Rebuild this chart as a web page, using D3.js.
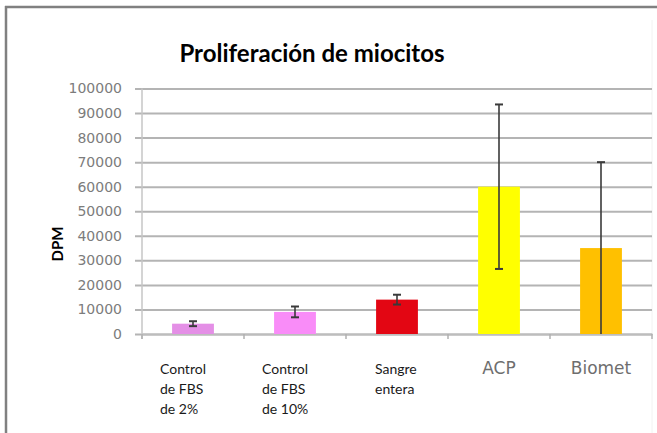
<!DOCTYPE html>
<html>
<head>
<meta charset="utf-8">
<script src="https://cdn.jsdelivr.net/npm/d3@7"></script>
<style>
  body { margin: 0; background: #fff; }
  svg { display: block; }
  .tick-label { font-family: 'DejaVu Sans', sans-serif; }
</style>
</head>
<body>
<svg id="chart" width="657" height="433"></svg>
<script>
// data
const categories = ['Control de FBS de 2%', 'Control de FBS de 10%', 'Sangre entera', 'ACP', 'Biomet'];
const labelLines = [['Control', 'de FBS', 'de 2%'], ['Control', 'de FBS', 'de 10%'], ['Sangre', 'entera'], ['ACP'], ['Biomet']];
const values = [4200, 9000, 14000, 60000, 35000];
const errors = [1000, 2200, 2000, 33500, 35000];
const barColors = ['#e48fe6', '#f98cf8', '#e30613', '#ffff00', '#ffc000'];
const yTicks = [0, 10000, 20000, 30000, 40000, 50000, 60000, 70000, 80000, 90000, 100000];

const margin = { top: 88.5, right: 5, bottom: 99, left: 142 };
const outerWidth = 657, outerHeight = 433;
const width = outerWidth - margin.left - margin.right;
const height = outerHeight - margin.top - margin.bottom;

const svg = d3.select('#chart');

// frame of the chart area (top and left edges only are visible)
svg.append('line')
  .attr('x1', 5).attr('x2', 657).attr('y1', 7).attr('y2', 7)
  .attr('stroke', '#808080').attr('stroke-width', 2.5);
svg.append('line')
  .attr('x1', 6).attr('x2', 6).attr('y1', 6).attr('y2', 433)
  .attr('stroke', '#808080').attr('stroke-width', 2.5);
svg.append('line')
  .attr('x1', 652).attr('x2', 652).attr('y1', 20).attr('y2', 433)
  .attr('stroke', '#f2f2f2').attr('stroke-width', 1);

svg.append('text')
  .attr('x', 312)
  .attr('y', 62)
  .attr('text-anchor', 'middle')
  .attr('font-family', 'Lato, sans-serif')
  .attr('font-weight', 'bold')
  .attr('font-size', 24)
  .attr('fill', '#000')
  .text('Proliferación de miocitos');

const g = svg.append('g')
  .attr('transform', 'translate(' + margin.left + ',' + margin.top + ')');

const xScale = d3.scaleBand()
  .domain(categories)
  .range([0, width])
  .padding(0);

const yScale = d3.scaleLinear()
  .domain([0, 100000])
  .range([height, 0]);

// y axis with gridlines
const yAxis = d3.axisLeft(yScale)
  .tickValues(yTicks)
  .tickSize(-width)
  .tickPadding(20)
  .tickFormat(d3.format('d'));

const gY = g.append('g').classed('y axis', true).call(yAxis);
gY.attr('font-family', null).attr('font-size', null);
gY.select('.domain').remove();
gY.selectAll('.tick line')
  .attr('x1', -7)
  .attr('stroke', '#b4b4b4')
  .attr('stroke-width', 2);
gY.selectAll('.tick text')
  .classed('tick-label', true)
  .attr('font-size', 14)
  .attr('fill', '#7c7c7c');

// vertical axis line
g.append('line')
  .attr('x1', 0).attr('x2', 0)
  .attr('y1', 0).attr('y2', height + 5)
  .attr('stroke', '#c6c6c6').attr('stroke-width', 1.5);

// category axis
const xAxis = d3.axisBottom(xScale).tickSize(0).tickFormat('');
const gX = g.append('g')
  .classed('x axis', true)
  .attr('transform', 'translate(0,' + height + ')')
  .call(xAxis);
gX.select('.domain').attr('stroke', '#bdbdbd').attr('stroke-width', 2);

const boundaries = categories.map(c => xScale(c)).concat([width]);
gX.selectAll('.cat-tick')
  .data(boundaries)
  .enter()
  .append('line')
  .classed('cat-tick', true)
  .attr('x1', d => d).attr('x2', d => d)
  .attr('y1', 0).attr('y2', 5)
  .attr('stroke', '#b0b0b0').attr('stroke-width', 1.5);

const barWidth = xScale.bandwidth() * 0.41;
const rows = categories.map((c, i) => ({
  cat: c, value: values[i], err: errors[i], color: barColors[i], lines: labelLines[i]
}));

g.selectAll('.bar')
  .data(rows)
  .enter()
  .append('rect')
  .classed('bar', true)
  .attr('x', d => xScale(d.cat) + xScale.bandwidth() / 2 - barWidth / 2)
  .attr('y', d => yScale(d.value))
  .attr('width', barWidth)
  .attr('height', d => height - yScale(d.value))
  .attr('fill', d => d.color);

// error bars
const errG = g.selectAll('.err')
  .data(rows)
  .enter()
  .append('g')
  .classed('err', true)
  .attr('transform', d => 'translate(' + (xScale(d.cat) + xScale.bandwidth() / 2) + ',0)');

errG.append('line')
  .attr('y1', d => yScale(d.value + d.err))
  .attr('y2', d => yScale(Math.max(0, d.value - d.err)))
  .attr('stroke', '#3a3a3a').attr('stroke-width', 1.6);
errG.append('line')
  .attr('x1', -4).attr('x2', 4)
  .attr('y1', d => yScale(d.value + d.err))
  .attr('y2', d => yScale(d.value + d.err))
  .attr('stroke', '#3a3a3a').attr('stroke-width', 2);
errG.filter(d => d.value - d.err > 0)
  .append('line')
  .attr('x1', -4).attr('x2', 4)
  .attr('y1', d => yScale(d.value - d.err))
  .attr('y2', d => yScale(d.value - d.err))
  .attr('stroke', '#3a3a3a').attr('stroke-width', 2);

// category labels: the first three are wrapped text, the last two a grey font
const labels = g.selectAll('.cat-label')
  .data(rows)
  .enter()
  .append('text')
  .classed('cat-label', true)
  .attr('y', height + 40);

labels.filter((d, i) => i < 3)
  .attr('text-anchor', 'start')
  .attr('x', (d, i) => xScale(d.cat) + [18, 18, 29][i])
  .attr('font-family', 'Lato, sans-serif')
  .attr('font-size', 14)
  .attr('fill', '#1a1a1a')
  .each(function (d) {
    const t = d3.select(this);
    const x0 = t.attr('x');
    d.lines.forEach((line, j) => {
      t.append('tspan').attr('x', x0).attr('dy', j === 0 ? 0 : 20).text(line);
    });
  });

labels.filter((d, i) => i >= 3)
  .classed('tick-label', true)
  .attr('text-anchor', 'middle')
  .attr('x', d => xScale(d.cat) + xScale.bandwidth() / 2)
  .attr('font-size', 17)
  .attr('fill', '#6e6e6e')
  .text(d => d.lines[0]);

// axis title
svg.append('text')
  .attr('transform', 'translate(63,244) rotate(-90)')
  .attr('text-anchor', 'middle')
  .attr('font-family', 'Lato, sans-serif')
  .attr('font-weight', 'bold')
  .attr('font-size', 15)
  .attr('fill', '#000')
  .text('DPM');
</script>
</body>
</html>
